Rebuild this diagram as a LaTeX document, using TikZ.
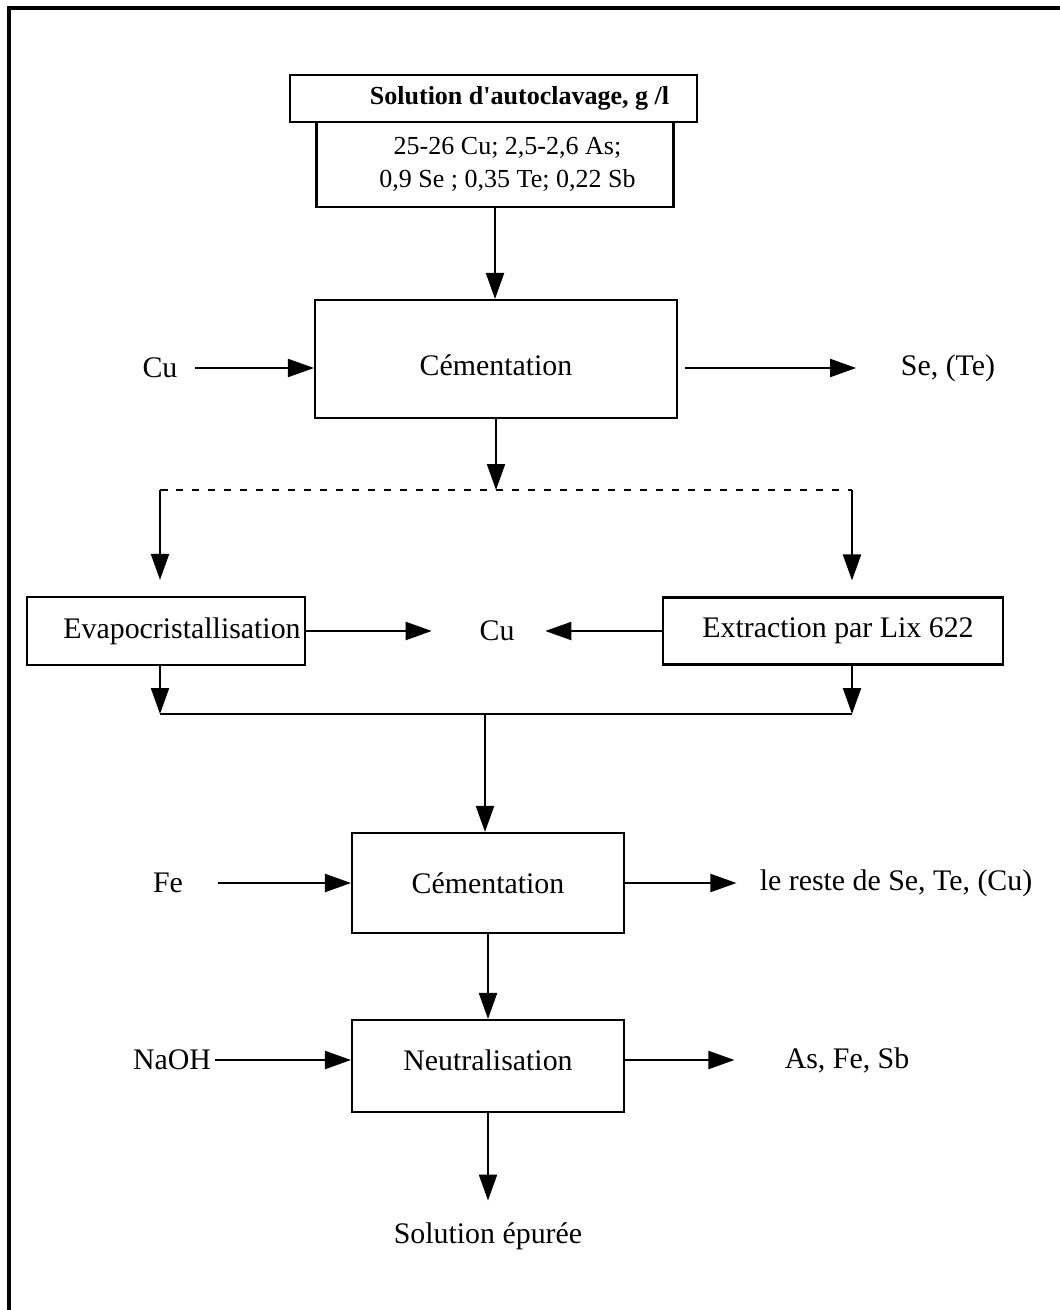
\documentclass[tikz,border=0pt]{standalone}
\usepackage{fontspec}
\setmainfont{Liberation Serif}
\newfontfamily\titlefont{Liberation Serif}
\usetikzlibrary{arrows.meta}

\begin{document}
\begin{tikzpicture}[
    x=0.02cm, y=-0.02cm,
    every node/.style={font=\fontsize{17}{20}\selectfont, inner sep=2pt},
    box/.style={draw, line width=1.2pt, align=center},
    arr/.style={-{Triangle[length=0.52cm, width=0.36cm]}, line width=1.2pt},
    link/.style={line width=1.2pt},
    dashline/.style={line width=1.2pt, dash pattern=on 0.15cm off 0.17cm},
    frame/.style={line width=1.8pt},
]
\useasboundingbox (0,0) rectangle (1060,1310);
\draw[frame] (9,1330) -- (9,8) -- (1060,8);

% solution de depart
\node[box, font=\titlefont\bfseries\fontsize{14.8}{17}\selectfont, minimum width=8.14cm, minimum height=0.94cm] (sol) at (493.5,98.5) {\hspace*{1.04cm}Solution d'autoclavage, g /l};
\node[box, font=\fontsize{14.8}{18.8}\selectfont, minimum width=7.14cm, minimum height=1.7cm] (comp) at (495,164.5) {\hspace*{0.5cm}25-26 Cu; 2,5-2,6 As;\\\hspace*{0.5cm}0,9 Se ; 0,35 Te; 0,22 Sb};

% 1re cementation
\node[box, text height=0.66cm, minimum width=7.24cm, minimum height=2.36cm] (cem1) at (496,359) {Cémentation};
\node (cu1)  at (160,368) {Cu};
\node (sete) at (948,368) {Se, (Te)};
\draw[arr] (comp) -- (comp |- cem1.north);
\draw[arr, shorten <=0.28cm] (cu1) -- (cu1 -| cem1.west);
\draw[arr, shorten <=0.14cm, shorten >=0.82cm] (cem1.east |- sete) -- (sete);

% deux voies
\coordinate (split) at (496,490);
\coordinate (sl) at (160,490);
\coordinate (sr) at (852,490);
\node[box, inner xsep=0pt, minimum width=5.56cm, minimum height=1.36cm] (evap) at (166,631) {\hspace*{0.64cm}Evapocristallisation};
\node[box, minimum width=6.8cm, minimum height=1.34cm] (extr) at (833,631) {\hspace*{0.2cm}Extraction par Lix 622};
\node (cum) at (497,631) {Cu};
\draw[arr] (cem1) -- (split);
\draw[dashline] (sl) -- (sr);
\draw[arr, shorten >=0.32cm] (sl) -- (sl |- evap.north);
\draw[arr, shorten >=0.32cm] (sr) -- (sr |- extr.north);
\draw[arr, shorten >=0.88cm] (evap) -- (cum);
\draw[arr, shorten >=0.54cm] (extr) -- (cum);

% reunion
\coordinate (jl) at (160,714);
\coordinate (jr) at (852,714);
\coordinate (join) at (485,714);
\draw[arr] (evap.south -| jl) -- (jl);
\draw[arr] (extr.south -| jr) -- (jr);
\draw[link] (jl) -- (jr);

% 2e cementation
\node[box, minimum width=5.44cm, minimum height=2.0cm] (cem2) at (488,883) {Cémentation};
\node (fe) at (168,883) {Fe};
\node (reste) at (896,883) {le reste de Se, Te, (Cu)};
\draw[arr] (join) -- (join |- cem2.north);
\draw[arr, shorten <=0.62cm] (fe) -- (cem2);
\draw[arr, shorten >=0.39cm] (cem2) -- (reste);

% neutralisation
\node[box, text depth=0.25cm, minimum width=5.44cm, minimum height=1.84cm] (neut) at (488,1066) {Neutralisation};
\node (naoh) at (172,1060) {NaOH};
\node (asfesb) at (847,1060) {As, Fe, Sb};
\node (epur) at (488,1236) {Solution épurée};
\draw[arr] (cem2) -- (neut);
\draw[arr] (naoh) -- (naoh -| neut.west);
\draw[arr, shorten >=0.93cm] (neut.east |- asfesb) -- (asfesb);
\draw[arr, shorten >=0.36cm] (neut) -- (epur);
\end{tikzpicture}
\end{document}
